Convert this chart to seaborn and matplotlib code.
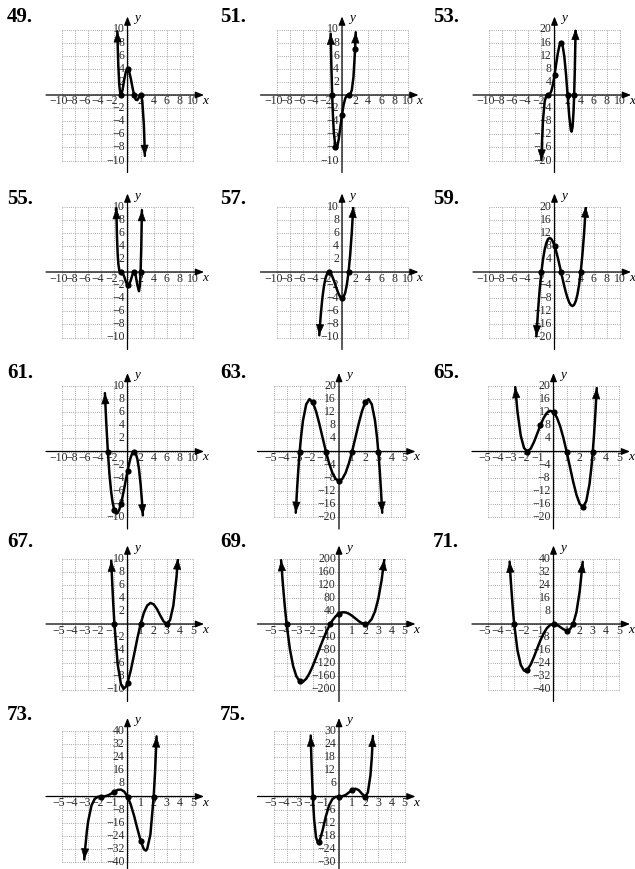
import matplotlib
matplotlib.use("Agg")
import matplotlib.pyplot as plt
from matplotlib.transforms import offset_copy
import seaborn as sns

# ---------------------------------------------------------------- data
problems = ["49", "51", "53", "55", "57", "59", "61", "63", "65", "67", "69", "71", "73", "75"]

# half-widths of the viewing windows and tick spacing
x_half = [10, 10, 10, 10, 10, 10, 10, 5, 5, 5, 5, 5, 5, 5]
x_step = [2, 2, 2, 2, 2, 2, 2, 1, 1, 1, 1, 1, 1, 1]
y_half = [10, 10, 20, 10, 10, 20, 10, 20, 20, 10, 200, 40, 40, 30]
y_step = [2, 2, 4, 2, 2, 4, 2, 4, 4, 2, 40, 8, 8, 6]

# sampled points along each graph
px49 = [-1.55, -1.5, -1.4, -1.25, -1.1, -1, -0.9, -0.75, -0.5, -0.25, 0, 0.25, 0.5, 0.75, 1,
        1.25, 1.5, 1.75, 2, 2.25, 2.5, 2.6, 2.65]
py49 = [9.72, 7.66, 4.44, 1.49, 0.20, 0, 0.16, 0.83, 2.34, 3.56, 4, 3.59, 2.53, 1.20, 0,
        -0.71, -0.78, -0.35, 0, -0.83, -4.59, -7.47, -9.29]

px51 = [-1.73, -1.7, -1.6, -1.5, -1.4, -1.25, -1, -0.875, -0.75, -0.5, -0.25, 0, 0.25, 0.5,
        0.75, 1, 1.25, 1.5, 1.75, 2, 2.1]
py51 = [9.36, 7.87, 3.52, 0, -2.76, -5.70, -8, -8.24, -8.04, -6.75, -4.88, -3, -1.48, -0.5,
        -0.07, 0, 0.09, 0.75, 2.74, 7, 9.58]

px53 = [-2, -1.9, -1.75, -1.5, -1.25, -1, -0.75, -0.5, -0.25, 0, 0.25, 0.5, 0.75, 1, 1.25,
        1.5, 1.75, 2, 2.25, 2.5, 2.6, 2.75, 2.9, 3, 3.1, 3.2, 3.22]
py53 = [-20, -13.93, -7.51, -1.97, -0.22, 0, 0.16, 1.09, 3.09, 6, 9.40, 12.66, 15.07, 16,
        14.95, 11.72, 6.50, 0, -6.44, -10.72, -11.20, -9.89, -5.34, 0, 7.58, 17.78, 20.17]

px55 = [-1.71, -1.6, -1.5, -1.4, -1.25, -1, -0.75, -0.5, -0.25, 0, 0.1, 0.25, 0.5, 0.75, 1,
        1.25, 1.5, 1.75, 1.9, 2, 2.1, 2.2]
py55 = [9.75, 5.26, 2.73, 1.25, 0.26, 0, -0.13, -0.70, -1.48, -2, -2.05, -1.92, -1.27, -0.42,
        0, -0.53, -1.95, -2.93, -1.98, 0, 3.60, 9.44]

px57 = [-3.47, -3.25, -3, -2.75, -2.5, -2.25, -2, -1.75, -1.5, -1.25, -1, -0.75, -0.5, -0.25,
        0, 0.25, 0.5, 0.75, 1, 1.25, 1.5, 1.72]
py57 = [-9.66, -6.64, -4, -2.11, -0.88, -0.20, 0, -0.17, -0.63, -1.27, -2, -2.73, -3.38,
        -3.83, -4, -3.80, -3.13, -1.89, 0, 2.64, 6.13, 9.96]

px59 = [-2.77, -2.5, -2.25, -2, -1.75, -1.5, -1.25, -1, -0.75, -0.5, -0.25, 0, 0.25, 0.5,
        0.75, 1, 1.25, 1.5, 1.75, 2, 2.25, 2.5, 2.75, 3, 3.25, 3.5, 3.75, 4, 4.25, 4.5, 4.78]
py59 = [-19.65, -11.38, -5.08, 0, 3.95, 6.88, 8.86, 10, 10.39, 10.13, 9.30, 8, 6.33, 4.38,
        2.23, 0, -2.23, -4.38, -6.33, -8, -9.30, -10.13, -10.39, -10, -8.86, -6.88, -3.95, 0,
        5.08, 11.38, 19.99]

px61 = [-3.45, -3.25, -3, -2.75, -2.5, -2.25, -2, -1.67, -1.5, -1.25, -1, -0.75, -0.5, -0.25,
        0, 0.25, 0.5, 0.75, 1, 1.25, 1.5, 1.75, 2, 2.2, 2.35]
py61 = [8.91, 4.52, 0, -3.52, -6.13, -7.92, -9, -9.48, -9.38, -8.86, -8, -6.89, -5.63, -4.30,
        -3, -1.83, -0.88, -0.23, 0, -0.27, -1.13, -2.67, -5, -7.49, -9.75]

px63 = [-3.3, -3.2, -3.1, -3, -2.9, -2.75, -2.5, -2.25, -2, -1.75, -1.5, -1.25, -1, -0.75,
        -0.5, -0.25, 0, 0.25, 0.5, 0.75, 1, 1.25, 1.5, 1.75, 2, 2.25, 2.5, 2.75, 2.9, 3, 3.1,
        3.2, 3.3]
py63 = [-18.69, -11.46, -5.25, 0, 4.37, 9.43, 14.44, 16.0, 15, 12.25, 8.44, 4.18, 0, -3.69,
        -6.56, -8.38, -9, -8.38, -6.56, -3.69, 0, 4.18, 8.44, 12.25, 15, 16.0, 14.44, 9.43,
        4.37, 0, -5.25, -11.46, -18.69]

px65 = [-2.92, -2.75, -2.5, -2.25, -2, -1.75, -1.5, -1.25, -1, -0.75, -0.5, -0.25, 0, 0.25,
        0.5, 0.75, 1, 1.25, 1.5, 1.75, 2, 2.25, 2.5, 2.75, 2.9, 3, 3.1, 3.2, 3.3]
py65 = [19.64, 12.13, 4.81, 1.07, 0, 0.82, 2.81, 5.38, 8, 10.25, 11.81, 12.44, 12, 10.44,
        7.81, 4.25, 0, -4.62, -9.19, -13.18, -16, -16.93, -15.19, -9.87, -4.56, 0, 5.46,
        11.90, 19.38]

px67 = [-1.24, -1.2, -1.1, -1, -0.75, -0.5, -0.3, -0.1, 0, 0.25, 0.5, 0.75, 1, 1.25, 1.5,
        1.75, 2, 2.25, 2.5, 2.75, 3, 3.25, 3.5, 3.75, 3.85]
py67 = [9.66, 7.76, 3.53, 0, -6.15, -9.19, -9.91, -9.51, -9, -7.09, -4.69, -2.21, 0, 1.72,
        2.81, 3.22, 3, 2.29, 1.31, 0.41, 0, 0.60, 2.81, 7.35, 9.99]

px69 = [-4.42, -4.3, -4.15, -4, -3.75, -3.5, -3.25, -3, -2.85, -2.75, -2.5, -2.25, -2, -1.75,
        -1.5, -1.25, -1, -0.67, -0.5, -0.25, 0, 0.25, 0.5, 0.75, 1, 1.25, 1.5, 1.75, 2, 2.25,
        2.5, 2.75, 3, 3.25, 3.46]
py69 = [194.9, 129.8, 59.3, 0, -76.5, -128.6, -160.2, -175, -177.2, -176.3, -167.1, -150.1,
        -128, -102.8, -76.6, -50.8, -27, 0, 10.9, 23.7, 32, 35.8, 35.4, 31.5, 25, 17.0, 8.9,
        2.6, 0, 3.4, 15.4, 38.9, 77, 133.1, 196.9]

px71 = [-3.35, -3.25, -3.1, -3, -2.75, -2.5, -2.25, -2.15, -2, -1.75, -1.5, -1.25, -1, -0.75,
        -0.5, -0.25, 0, 0.25, 0.5, 0.75, 1, 1.25, 1.5, 1.75, 2, 2.23]
py71 = [38.1, 25.09, 8.84, 0, -16.07, -25, -28.48, -28.68, -28, -24.88, -20.25, -15.04, -10,
        -5.70, -2.5, -0.60, 0, -0.51, -1.75, -3.16, -4, -3.32, 0, 7.27, 20, 37.97]

px73 = [-3.3, -3.25, -3.1, -3, -2.75, -2.5, -2.25, -2, -1.75, -1.5, -1.25, -1, -0.75, -0.5,
        -0.25, 0, 0.25, 0.5, 0.75, 1, 1.25, 1.4, 1.5, 1.75, 2, 2.1, 2.22]
py73 = [-38.4, -33.3, -21.04, -15, -5.51, -1.41, -0.15, 0, 0.10, 0.66, 1.71, 3, 4.03, 4.22,
        3.01, 0, -4.98, -11.72, -19.5, -27, -32.19, -33.02, -32.16, -23.07, 0, 14.47, 36.7]

px75 = [-2.16, -2.1, -2, -1.9, -1.75, -1.6, -1.5, -1.25, -1, -0.75, -0.5, -0.25, 0, 0.25,
        0.5, 0.75, 1, 1.25, 1.5, 1.75, 2, 2.2, 2.4, 2.5, 2.59]
py75 = [27.9, 15.57, 0, -10.43, -18.84, -21.23, -20.67, -15.47, -9, -3.99, -1.17, -0.14, 0,
        0.11, 0.70, 1.81, 3, 3.57, 2.95, 1.26, 0, 1.79, 9.73, 17.58, 27.76]

# labelled points on each graph
dx49, dy49 = [-1, 0, 1, 2], [0, 4, 0, 0]
dx51, dy51 = [-1.5, -1, 0, 1, 2], [0, -8, -3, 0, 7]
dx53, dy53 = [-1, 0, 1, 2, 3], [0, 6, 16, 0, 0]
dx55, dy55 = [-1, 0, 1, 2], [0, -2, 0, 0]
dx57, dy57 = [-2, 0, 1], [0, -4, 0]
dx59, dy59 = [-2, 0, 1, 4], [0, 8, 0, 0]
dx61, dy61 = [-3, -2, -1, 0, 1], [0, -9, -8, -3, 0]
dx63, dy63 = [-3, -2, -1, 0, 1, 2, 3], [0, 15, 0, -9, 0, 15, 0]
dx65, dy65 = [-2, -1, 0, 1, 2.25, 3], [0, 8, 12, 0, -16.93, 0]
dx67, dy67 = [-1, 0, 1, 3], [0, -9, 0, 0]
dx69, dy69 = [-4, -3, -0.67, 0, 2], [0, -175, 0, 32, 0]
dx71, dy71 = [-3, -2, 0, 1, 1.5], [0, -28, 0, -4, 0]
dx73, dy73 = [-2, -1, 0, 1, 2], [0, 3, 0, -27, 0]
dx75, dy75 = [-2, -1.5, 0, 1, 2], [0, -20.67, 0, 3, 0]

curves_x = [px49, px51, px53, px55, px57, px59, px61, px63, px65, px67, px69, px71, px73, px75]
curves_y = [py49, py51, py53, py55, py57, py59, py61, py63, py65, py67, py69, py71, py73, py75]
dots_x = [dx49, dx51, dx53, dx55, dx57, dx59, dx61, dx63, dx65, dx67, dx69, dx71, dx73, dx75]
dots_y = [dy49, dy51, dy53, dy55, dy57, dy59, dy61, dy63, dy65, dy67, dy69, dy71, dy73, dy75]

# ---------------------------------------------------------------- layout (pixels)
W, H = 635, 869
GRID = 131
col_left = [[62, 276.5, 489], [62, 276.5, 489], [62, 273.5, 488],
            [62, 273.5, 488], [62, 273.5, 488]]
row_top = [29.5, 206.5, 386, 558.5, 731]
label_y = [16.5, 199, 373, 542, 715]
label_left = [7, 220, 433]

sns.set_style("white")
plt.rcParams["font.family"] = ["Liberation Serif", "DejaVu Serif"]

fig = plt.figure(figsize=(W / 100, H / 100), dpi=100)
fig.patch.set_facecolor("white")

GRID_COLOR = "#8c8c8c"
TICK_COLOR = "#2a2a2a"


def fmt(v):
    v = int(round(v))
    return ("\u2212%d" % -v) if v < 0 else "%d" % v


def frange(h, s):
    n = int(round(h / s))
    return [k * s for k in range(-n, n + 1)]


for i, name in enumerate(problems):
    r, c = divmod(i, 3)
    left, top = col_left[r][c], row_top[r]
    xh, xs_, yh, ys_ = x_half[i], x_step[i], y_half[i], y_step[i]

    ax = fig.add_axes([left / W, 1 - (top + GRID) / H, GRID / W, GRID / H])

    # dotted grid
    for v in frange(xh, xs_):
        ax.axvline(v, color=GRID_COLOR, lw=0.6, ls=(0, (1, 1.6)), zorder=0, clip_on=False)
    for v in frange(yh, ys_):
        ax.axhline(v, color=GRID_COLOR, lw=0.6, ls=(0, (1, 1.6)), zorder=0, clip_on=False)

    # the graph
    xs, ys = curves_x[i], curves_y[i]
    sns.lineplot(x=xs, y=ys, ax=ax, color="black", linewidth=1.8, sort=False,
                 estimator=None, zorder=3)
    for a, b in [(0, 1), (-1, -2)]:
        ax.annotate("", xy=(xs[a], ys[a]), xytext=(xs[b], ys[b]),
                    arrowprops=dict(arrowstyle="-|>,head_length=0.7,head_width=0.26",
                                    mutation_scale=10, color="black", lw=0.5,
                                    shrinkA=0, shrinkB=0),
                    annotation_clip=False, zorder=4)
    sns.scatterplot(x=dots_x[i], y=dots_y[i], ax=ax, color="black", s=20,
                    linewidth=0, zorder=5, legend=False, clip_on=False)

    ax.set_xlim(-xh, xh)
    ax.set_ylim(-yh, yh)
    ax.set_axis_off()

    # coordinate axes with arrowheads
    axis_arrow = dict(arrowstyle="-|>,head_length=0.5,head_width=0.2", mutation_scale=10,
                      color="black", lw=0.9, shrinkA=0, shrinkB=0)
    ax.annotate("", xy=(1 + 11 / GRID, 0.5), xytext=(-16 / GRID, 0.5),
                xycoords="axes fraction", arrowprops=axis_arrow, zorder=2)
    ax.annotate("", xy=(0.5, 1 + 13 / GRID), xytext=(0.5, -12 / GRID),
                xycoords="axes fraction", arrowprops=axis_arrow, zorder=2)
    ax.text(1 + 9 / GRID, 0.5 - 6 / GRID, "x", transform=ax.transAxes, ha="left",
            va="center", fontsize=9.5, style="italic", color="black")
    ax.text(0.5 + 7 / GRID, 1 + 11 / GRID, "y", transform=ax.transAxes, ha="left",
            va="center", fontsize=9.5, style="italic", color="black")

    # tick numbers along the axes
    for v in frange(xh, xs_):
        if v == 0:
            continue
        tr = offset_copy(ax.transData, fig=fig, x=(-3.2 if v < 0 else 0), y=-6.5,
                         units="dots")
        ax.text(v, 0, fmt(v), transform=tr, ha="center", va="center", fontsize=8.5,
                color=TICK_COLOR, zorder=1)
    for v in frange(yh, ys_):
        if v == 0:
            continue
        tr = offset_copy(ax.transData, fig=fig, x=-3, y=0, units="dots")
        ax.text(0, v, fmt(v), transform=tr, ha="right", va="center", fontsize=8.5,
                color=TICK_COLOR, zorder=1)

    # problem number
    fig.text(label_left[c] / W, 1 - label_y[r] / H, name + ".", fontsize=15,
             fontweight="bold", ha="left", va="center", color="black")

fig.savefig("out.png", dpi=100, facecolor="white")
